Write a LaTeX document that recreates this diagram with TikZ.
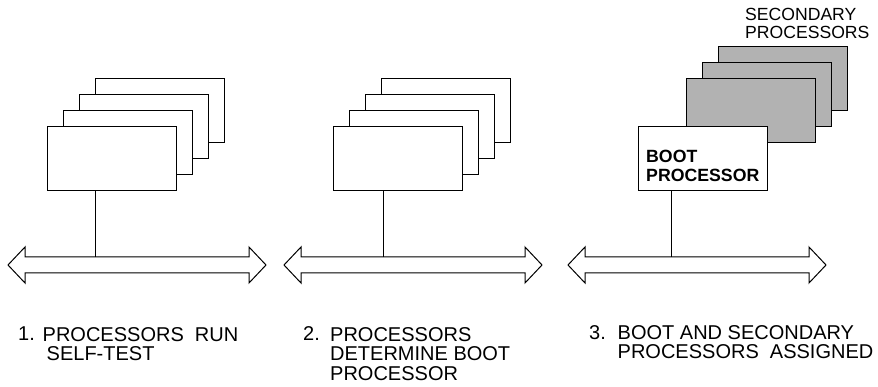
\documentclass[tikz,border=0pt]{standalone}
\usepackage{fontspec}
\setmainfont{Liberation Sans}

\begin{document}
\begin{tikzpicture}[x=1pt,y=-1pt,
  cpu/.style={draw=black,fill=white,line width=1pt,minimum width=129pt,minimum height=64pt,inner sep=0pt},
  spare/.style={cpu,fill=black!30},
  bus/.style={draw=black,fill=white,line width=1pt,line join=miter},
  tap/.style={draw=black,line width=1pt},
  lbl/.style={font=\fontsize{20}{19.5}\selectfont,inner sep=0pt,anchor=base west,align=left}]
\useasboundingbox (0,0) rectangle (878,387);
\foreach \dx in {0,276,560}
\draw[bus,shift={(\dx,0)}] (8,265) -- (25,247) -- (25,257) -- (249,257) -- (249,247) -- (266,265)
  -- (249,283) -- (249,273) -- (25,273) -- (25,283) -- cycle;
\coordinate (t1) at (95,257);
\coordinate (t2) at (383,257);
\coordinate (t3) at (671,257);
\foreach \k in {3,2,1,0}
\node[cpu] (a\k) at (111.5+16*\k,159-16*\k) {};
\foreach \k in {3,2,1,0}
\node[cpu] (b\k) at (398+16*\k,158.5-16*\k) {};
\foreach \k in {2,1,0}
\node[spare] (s\k) at (750.5+16*\k,110.7-16*\k) {};
\node[cpu] (boot) at (702.5,159) {};
\draw[tap] (a0.south -| t1) -- (t1);
\draw[tap] (b0.south -| t2) -- (t2);
\draw[tap] (boot.south -| t3) -- (t3);
\node[lbl,font=\bfseries\fontsize{17.7}{18.5}\selectfont] (bootlbl) at (646,181.5) {BOOT\\PROCESSOR};
\node[lbl,font=\fontsize{17.6}{17.6}\selectfont] (seclbl) at (745,38.6) {SECONDARY\\PROCESSORS};
\node[lbl] (n1) at (18,341) {1.};
\node[lbl] (l1) at (42.5,360.5) {PROCESSORS\ \ RUN\\\hspace{4pt}SELF-TEST};
\node[lbl] (n2) at (303,341) {2.};
\node[lbl] (l2) at (330,380) {PROCESSORS\\DETERMINE BOOT\\PROCESSOR};
\node[lbl] (n3) at (589,339) {3.};
\node[lbl] (l3) at (617.5,358.5) {BOOT AND SECONDARY\\PROCESSORS\ \ ASSIGNED};
\end{tikzpicture}
\end{document}
